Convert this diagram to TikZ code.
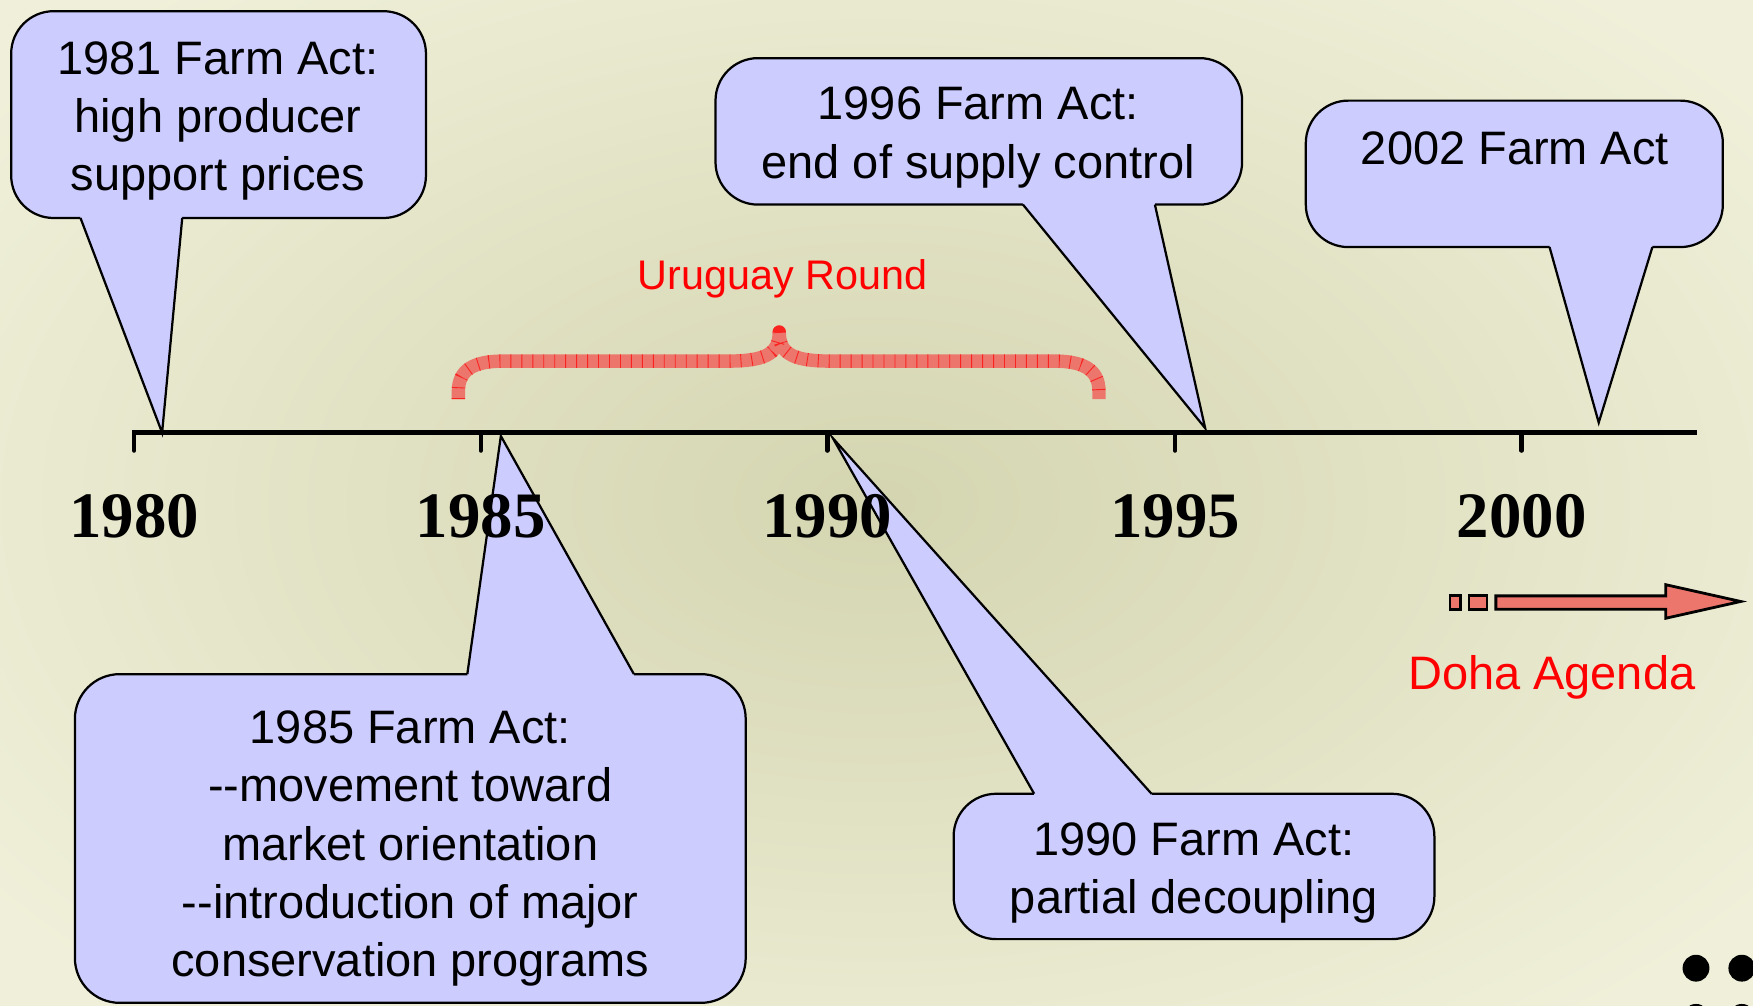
\documentclass[tikz,border=0pt]{standalone}
\usepackage{fontspec}
\setmainfont{Liberation Sans}
\newfontfamily\yearfont{Liberation Serif}
\definecolor{calfill}{RGB}{204,204,255}
\definecolor{brick}{RGB}{236,118,108}
\definecolor{bgin}{RGB}{212,213,176}
\definecolor{bgout}{RGB}{240,240,218}
\begin{document}
\begin{tikzpicture}[x=1pt,y=-1pt,
  callout/.style={fill=calfill, draw=black, line width=2pt},
  calline/.style={draw=black, line width=2pt},
  caltext/.style={font=\fontsize{42}{52}\selectfont, align=center, inner sep=0pt},
  yr/.style={font=\yearfont\bfseries\fontsize{58}{60}\selectfont, inner sep=0pt},
  redtxt/.style={text=red, inner sep=0pt},
  tickmark/.style={line width=4pt, line cap=round},
  bracestyle/.style={draw=brick, line width=12pt, line join=round,
     postaction={draw=red, draw opacity=0.7, line width=12pt, dash pattern=on 0.8pt off 9pt}},
  arrowstyle/.style={fill=brick, draw=black, line width=2.5pt},
]
\useasboundingbox (0,0) rectangle (1568,899);
\clip (0,0) rectangle (1568,899);
\shade[inner color=bgin, outer color=bgout] (-200,-150) rectangle (1768,1049);

% timeline
\coordinate (tl0) at (118,387);
\coordinate (tl1) at (1518,387);
\draw[line width=4pt] (tl0) -- (tl1);
\foreach \x in {120,430,740,1051,1361} {
  \draw[tickmark] (\x,387) -- (\x,403);
}

% tips on the timeline
\coordinate (p1981) at (145,387);
\coordinate (p1985) at (448,390);
\coordinate (p1990) at (745,392);
\coordinate (p1996) at (1078,383);
\coordinate (p2002) at (1430,378);

% 1981 callout
\filldraw[callout, rounded corners=38pt] (10,10) rectangle (381,195);
\fill[calfill] (72,188) -- (72,195) -- (p1981) -- (163,195) -- (163,188) -- cycle;
\draw[calline] (72,195) -- (p1981) -- (163,195);
\node[caltext] (c1981) at (195,108) {1981 Farm Act:\\high producer\\support prices};

% 1996 callout
\filldraw[callout, rounded corners=38pt] (640,52) rectangle (1111,183);
\fill[calfill] (915,176) -- (915,183) -- (p1996) -- (1033,183) -- (1033,176) -- cycle;
\draw[calline] (915,183) -- (p1996) -- (1033,183);
\node[caltext] (c1996) at (875,123) {1996 Farm Act:\\end of supply control};

% 2002 callout
\filldraw[callout, rounded corners=38pt] (1168,90) rectangle (1541,221);
\fill[calfill] (1386,214) -- (1386,221) -- (p2002) -- (1478,221) -- (1478,214) -- cycle;
\draw[calline] (1386,221) -- (p2002) -- (1478,221);
\node[caltext] (c2002) at (1355,133) {2002 Farm Act};

% 1985 callout
\filldraw[callout, rounded corners=40pt] (67,603) rectangle (667,897);
\fill[calfill] (418,610) -- (418,603) -- (p1985) -- (567,603) -- (567,610) -- cycle;
\draw[calline] (418,603) -- (p1985) -- (567,603);
\node[caltext] (c1985) at (367,759) {1985 Farm Act:\\-{}-movement toward\\market orientation\\-{}-introduction of major\\conservation programs};

% 1990 callout
\filldraw[callout, rounded corners=38pt] (853,710) rectangle (1283,840);
\fill[calfill] (925,717) -- (925,710) -- (p1990) -- (1030,710) -- (1030,717) -- cycle;
\draw[calline] (925,710) -- (p1990) -- (1030,710);
\node[caltext] (c1990) at (1068,781) {1990 Farm Act:\\partial decoupling};

% year labels
\node[yr] (y1980) at (120,462) {1980};
\node[yr] (y1985) at (430,462) {1985};
\node[yr] (y1990) at (740,462) {1990};
\node[yr] (y1995) at (1051,462) {1995};
\node[yr] (y2000) at (1361,462) {2000};

% Uruguay Round brace
\draw[bracestyle] (410,357) -- (410,350) .. controls (410,330) and (425,323) .. (450,323)
  -- (650,323) .. controls (682,323) and (697,318) .. (697,297)
  .. controls (697,318) and (712,323) .. (744,323)
  -- (943,323) .. controls (968,323) and (983,330) .. (983,350) -- (983,357);
\node[redtxt, font=\fontsize{37}{40}\selectfont] (uru) at (700,249) {Uruguay Round};

% Doha arrow
\filldraw[arrowstyle] (1297,533) rectangle (1306,545);
\filldraw[arrowstyle] (1314,533) rectangle (1330,545);
\filldraw[arrowstyle] (1338,533) -- (1490,533) -- (1490,523) -- (1557,538) -- (1490,553) -- (1490,545) -- (1338,545) -- cycle;
\node[redtxt, font=\fontsize{42}{46}\selectfont] (doha) at (1388,606) {Doha Agenda};

% corner dots
\fill (1517,866) circle (12);
\fill (1558,866) circle (12);
\fill (1517,910) circle (12);
\fill (1558,910) circle (12);
\end{tikzpicture}
\end{document}
